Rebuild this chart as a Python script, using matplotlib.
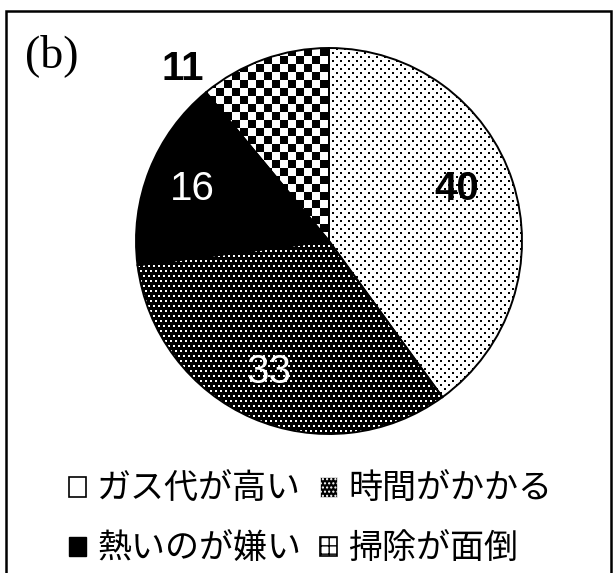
import numpy as np
import matplotlib.pyplot as plt
from matplotlib.patches import Patch, Rectangle

# data
labels = ['ガス代が高い', '時間がかかる', '熱いのが嫌い', '掃除が面倒']
values = [40, 33, 16, 11]
# where each number sits, as offsets from the centre in radius units
label_xy = [(0.66, 0.27), (-0.31, -0.68), (-0.71, 0.27), (-0.76, 0.89)]
label_colors = ['black', 'white', 'white', 'black']
label_weights = ['bold', 'normal', 'normal', 'bold']

W, H = 614, 573
cx, cy, R = 329, H - 241, 193

fig = plt.figure(figsize=(W / 100, H / 100), dpi=100)
ax = fig.add_axes([0, 0, 1, 1])

wedges, texts, autotexts = ax.pie(
    values, startangle=90, counterclock=False, center=(cx, cy), radius=R,
    autopct='%d', wedgeprops=dict(facecolor='none', edgecolor='black', linewidth=1.4),
    textprops=dict(family='Liberation Sans', fontsize=29))
ax.set_xlim(0, W)
ax.set_ylim(0, H)
ax.set_aspect('auto')
ax.axis('off')

for t, (dx, dy), c, fw in zip(autotexts, label_xy, label_colors, label_weights):
    t.set_position((cx + dx * R, cy + dy * R))
    t.set_color(c)
    t.set_fontweight(fw)

# fill patterns (pixel textures clipped to each slice)
rr, cc = np.mgrid[0:H, 0:W]
sparse = ((cc % 8 < 2) & (rr % 8 < 2)) | (((cc + 4) % 8 < 2) & ((rr + 4) % 8 < 2))
dense = (((rr // 5) % 2 == 0) & (cc % 5 < 2) & (rr % 5 < 2)) | \
        (((rr // 5) % 2 == 1) & ((cc + 2) % 5 < 2) & (rr % 5 < 2))
checker = ((cc // 8) + (rr // 8)) % 2 == 0
patterns = [np.where(sparse, 0.0, 1.0),
            np.where(dense, 1.0, 0.0),
            np.zeros((H, W)),
            np.where(checker, 0.0, 1.0)]
for w, p in zip(wedges, patterns):
    im = ax.imshow(p, cmap='gray', vmin=0, vmax=1, extent=(0, W, 0, H),
                   origin='upper', interpolation='nearest', zorder=0.5)
    im.set_clip_path(w)

ax.text(25, H - 56, '(b)', family='Liberation Serif', fontsize=33,
        ha='left', va='center')

handles = [Patch(facecolor='white', edgecolor='black', linewidth=1.2),
           Patch(facecolor='black', edgecolor='white', hatch='....', linewidth=0.5),
           Patch(facecolor='black', edgecolor='black'),
           Patch(facecolor='white', edgecolor='black', hatch='++', linewidth=1.2)]
order = [0, 2, 1, 3]
ax.legend([handles[i] for i in order], [labels[i] for i in order], ncol=2,
          loc='upper left', bbox_to_anchor=(69 / W, 1 - 472 / H),
          frameon=False, borderpad=0, borderaxespad=0,
          handlelength=0.5, handleheight=0.5,
          handletextpad=0.33, columnspacing=0.55, labelspacing=0.72,
          prop=dict(family='Noto Sans CJK JP', size=24.5))

ax.add_patch(Rectangle((6, -10), 605, H - 10.5 + 10, fill=False,
                       edgecolor='black', linewidth=1.8, clip_on=False))

fig.savefig('out.png', dpi=100)
